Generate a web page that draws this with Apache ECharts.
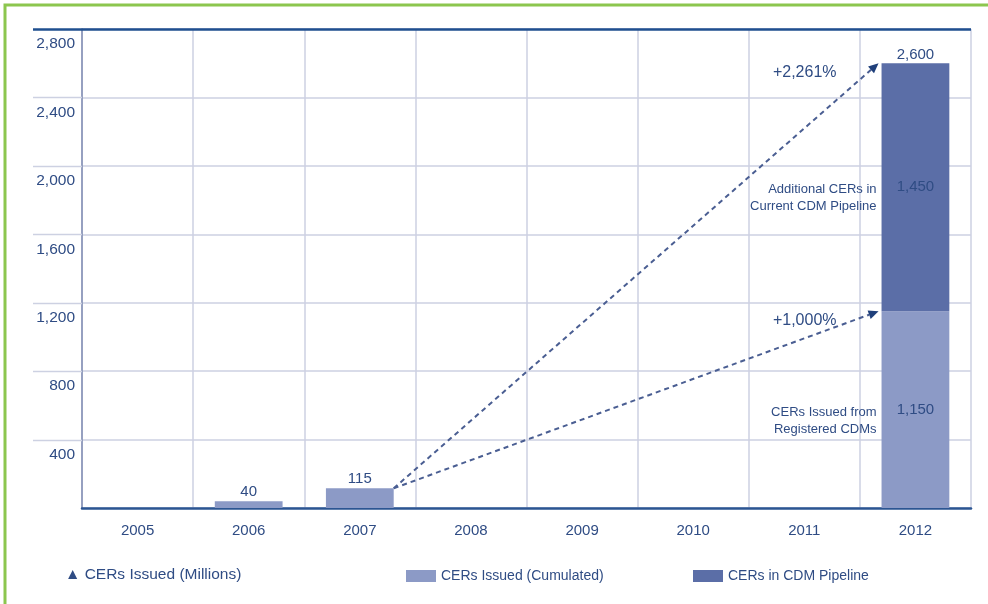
<!DOCTYPE html>
<html>
<head>
<meta charset="utf-8">
<script src="https://cdn.jsdelivr.net/npm/echarts@6/dist/echarts.min.js"></script>
<style>
  html, body { margin: 0; padding: 0; background: #fff; }
  #chart { width: 988px; height: 604px; }
</style>
</head>
<body>
<div id="chart"></div>
<script>
// CERs issued and in the CDM pipeline, millions
const years = ['2005', '2006', '2007', '2008', '2009', '2010', '2011', '2012'];
const issuedCumulated = [null, 40, 115, null, null, null, null, 1150];
const pipeline = [null, null, null, null, null, null, null, 1450];
const yTicks = [400, 800, 1200, 1600, 2000, 2400, 2800];
// growth arrows: from year, to year, target value, label
const growthFrom = ['2007', '2007'];
const growthTo = ['2012', '2012'];
const growthTarget = [2600, 1150];
const growthLabels = ['+2,261%', '+1,000%'];
// descriptions beside the 2012 bar segments
const noteYear = ['2012', '2012'];
const noteValue = [1875, 575];
const noteText = ['Additional CERs in\nCurrent CDM Pipeline', 'CERs Issued from\nRegistered CDMs'];

const TEXT = '#2f4c84';
const GRID = '#cdd1e2';
const LIGHT = '#8c9ac6';
const DARK = '#5b6ea7';
const ARROW = '#4a5e92';
const BAR_RATIO = 0.61;
const FONT = '"Liberation Sans", Arial, sans-serif';

const fmt = v => Number(v).toLocaleString('en-US');
const yearIdx = y => years.indexOf(y);

const totals = years.map((y, i) => (issuedCumulated[i] || 0) + (pipeline[i] || 0));

const issuedData = issuedCumulated.map((v, i) => {
  if (v == null) return null;
  const inside = pipeline[i] != null;
  return { value: v, label: { show: true, position: inside ? 'inside' : 'top', distance: 2 } };
});
const pipelineData = pipeline.map(v => v == null ? null : { value: v, label: { show: true, position: 'inside' } });

const arrowData = growthTarget.map((t, i) => {
  const from = yearIdx(growthFrom[i]);
  return [from, issuedCumulated[from], yearIdx(growthTo[i]), t, growthLabels[i]];
});
const totalData = years.map((y, i) => pipeline[i] != null ? [i, totals[i]] : null).filter(Boolean);
const noteData = noteYear.map((y, i) => [yearIdx(y), noteValue[i], noteText[i]]);

const chart = echarts.init(document.getElementById('chart'), null, { renderer: 'canvas' });

const legendBase = {
  top: 569, padding: 0,
  icon: 'rect', itemWidth: 30, itemHeight: 12, itemGap: 6,
  textStyle: { color: TEXT, fontSize: 14, fontFamily: FONT },
  selectedMode: false
};

const option = {
  backgroundColor: '#ffffff',
  animation: false,
  textStyle: { fontFamily: FONT },
  grid: { left: 82, right: 17, top: 29, bottom: 96 },
  legend: [
    Object.assign({ data: ['CERs Issued (Cumulated)'], left: 406 }, legendBase),
    Object.assign({ data: ['CERs in CDM Pipeline'], left: 693 }, legendBase)
  ],
  xAxis: {
    type: 'category',
    data: years,
    boundaryGap: true,
    axisLine: { lineStyle: { color: '#2b5592', width: 2.5 } },
    axisTick: { show: false },
    axisLabel: { color: TEXT, fontSize: 15, margin: 15, fontFamily: FONT },
    splitLine: { show: true, lineStyle: { color: GRID, width: 1.5 } }
  },
  yAxis: {
    type: 'value',
    min: 0, max: 2800, interval: 400,
    axisLine: { show: true, lineStyle: { color: '#7f8db2', width: 1.5 } },
    axisTick: { show: false },
    axisLabel: {
      color: TEXT, fontSize: 15.5, margin: 7, fontFamily: FONT,
      verticalAlign: 'top', padding: [7, 0, 0, 0],
      showMinLabel: false,
      formatter: v => v === 0 ? '' : fmt(v)
    },
    splitLine: { show: true, lineStyle: { color: GRID, width: 1.5 } }
  },
  series: [
    {
      name: 'CERs Issued (Cumulated)',
      type: 'bar', stack: 'total', barWidth: (BAR_RATIO * 100) + '%',
      itemStyle: { color: LIGHT },
      label: { color: TEXT, fontSize: 15, fontFamily: FONT, formatter: p => fmt(p.value) },
      data: issuedData
    },
    {
      name: 'CERs in CDM Pipeline',
      type: 'bar', stack: 'total', barWidth: (BAR_RATIO * 100) + '%',
      itemStyle: { color: DARK },
      label: { color: TEXT, fontSize: 15, fontFamily: FONT, formatter: p => fmt(p.value) },
      data: pipelineData
    },
    {
      // stack totals above the bars
      type: 'custom', name: 'totals', silent: true, z: 5,
      encode: { x: 0, y: 1 },
      data: totalData,
      renderItem: (params, api) => {
        const p = api.coord([api.value(0), api.value(1)]);
        return {
          type: 'text',
          style: {
            x: p[0], y: p[1] - 1, text: fmt(api.value(1)),
            align: 'center', verticalAlign: 'bottom',
            fill: TEXT, fontSize: 15, fontFamily: FONT
          }
        };
      }
    },
    {
      // segment descriptions, left of the bar
      type: 'custom', name: 'notes', silent: true, z: 5,
      encode: { x: 0, y: 1 },
      data: noteData,
      renderItem: (params, api) => {
        const p = api.coord([api.value(0), api.value(1)]);
        const half = api.size([1, 0])[0] * BAR_RATIO / 2;
        return {
          type: 'text',
          style: {
            x: p[0] - half - 5, y: p[1] - 6, text: noteText[params.dataIndex],
            align: 'right', verticalAlign: 'top', lineHeight: 17,
            fill: TEXT, fontSize: 13, fontFamily: FONT
          }
        };
      }
    },
    {
      // dashed growth arrows from 2007 to the 2012 levels
      type: 'custom', name: 'growth', silent: true, z: 6,
      encode: { x: [0, 2], y: [1, 3] },
      data: arrowData,
      renderItem: (params, api) => {
        const half = api.size([1, 0])[0] * BAR_RATIO / 2;
        const s = api.coord([api.value(0), api.value(1)]);
        const e = api.coord([api.value(2), api.value(3)]);
        const x0 = s[0] + half, y0 = s[1];
        const x1 = e[0] - half - 3, y1 = e[1];
        const ang = Math.atan2(y1 - y0, x1 - x0);
        const L = 10, W = 4.5;
        const bx = x1 - L * Math.cos(ang), by = y1 - L * Math.sin(ang);
        const nx = -Math.sin(ang), ny = Math.cos(ang);
        return {
          type: 'group',
          children: [
            {
              type: 'line',
              shape: { x1: x0, y1: y0, x2: bx, y2: by },
              style: { stroke: ARROW, lineWidth: 2, lineDash: [5, 4] }
            },
            {
              type: 'polygon',
              shape: { points: [[x1, y1], [bx + nx * W, by + ny * W], [bx - nx * W, by - ny * W]] },
              style: { fill: '#1f3f7a' }
            },
            {
              type: 'text',
              style: {
                x: x1 - 42, y: y1 + 9.5, text: growthLabels[params.dataIndex],
                align: 'right', verticalAlign: 'middle',
                fill: TEXT, fontSize: 16, fontFamily: FONT
              }
            }
          ]
        };
      }
    }
  ]
};

chart.setOption(option);

// gridline extensions to the left of the axis, dark top rule, frame and unit note
const gridLeft = 82, gridRight = 988 - 17, extLeft = 33;
const extras = [];
yTicks.forEach(v => {
  const y = Math.round(chart.convertToPixel({ yAxisIndex: 0 }, v)) + 0.5;
  if (v === 2800) {
    extras.push({ type: 'line', shape: { x1: extLeft, y1: y, x2: gridRight, y2: y },
      style: { stroke: '#1f4f8f', lineWidth: 2.5 }, z: 10 });
  } else {
    extras.push({ type: 'line', shape: { x1: extLeft, y1: y, x2: gridLeft, y2: y },
      style: { stroke: GRID, lineWidth: 1.5 }, z: 10 });
  }
});
extras.push({
  type: 'rect', shape: { x: 5, y: 5, width: 1100, height: 1100 },
  style: { fill: 'none', stroke: '#8cc64e', lineWidth: 3 }, z: 10
});
extras.push({
  type: 'text', left: 65, top: 567,
  style: { text: '\u25B2 CERs Issued (Millions)', fill: TEXT, fontSize: 15.5, fontFamily: FONT }
});
chart.setOption({ graphic: extras });
</script>
</body>
</html>
